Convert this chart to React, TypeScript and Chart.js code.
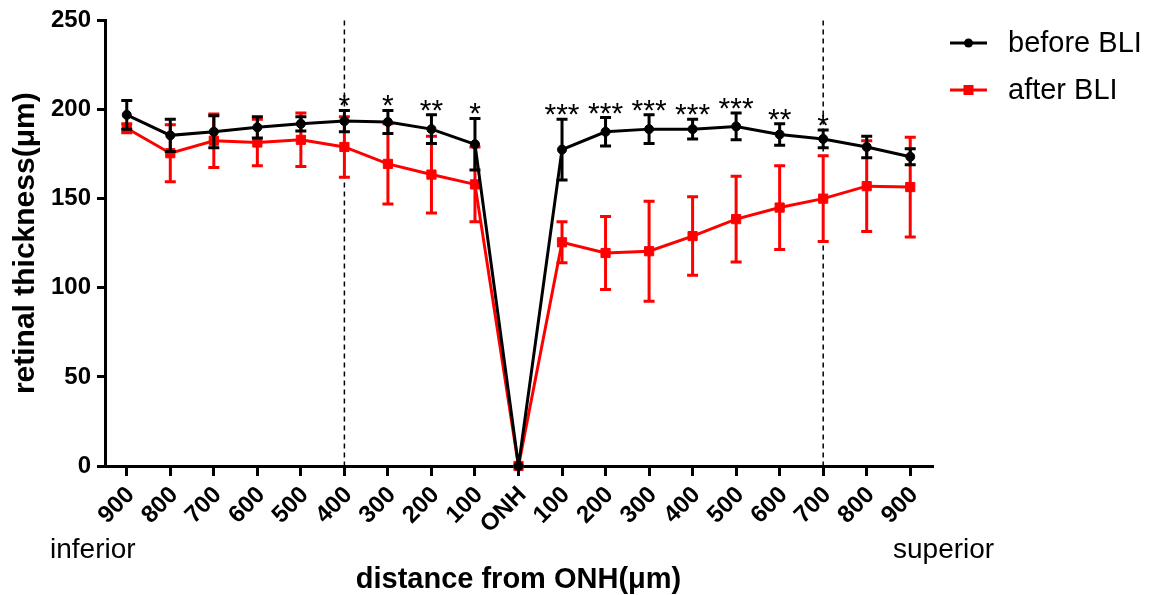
import React, { useEffect, useRef } from "react";
import { Chart, registerables } from "chart.js";

Chart.register(...registerables);

const categories = ["900", "800", "700", "600", "500", "400", "300", "200", "100", "ONH", "100", "200", "300", "400", "500", "600", "700", "800", "900"];
const beforeMean = [197, 185.5, 187.5, 190, 192, 193.5, 193, 189, 180.5, 0, 177.5, 187.5, 189, 189, 190.5, 186, 183.5, 179, 173.5];
const beforeSD = [8, 9, 9, 6, 4, 6, 6.5, 8, 14.5, 0, 17, 8, 8, 5.5, 7.5, 6, 5, 6, 4.5];
const afterMean = [189.5, 175.5, 182.5, 181.5, 183, 179, 169.5, 163.5, 158, 0, 125.5, 119.5, 120.5, 129, 138.5, 145, 150, 157, 156.5];
const afterSD = [2.5, 16, 15, 13, 15, 17, 22.5, 21.5, 21, 0, 11.5, 20.5, 28, 22, 24, 23.5, 24, 25.5, 28];
const significance = ["", "", "", "", "", "*", "*", "**", "*", "", "***", "***", "***", "***", "***", "**", "*", "", ""];
const dashedAt = [5, 16];
const seriesNames = ["before BLI", "after BLI"];
const yTicks = [0, 50, 100, 150, 200, 250];

const FONT = "'Liberation Sans', Arial, Helvetica, sans-serif";
const sds = [beforeSD, afterSD];

const extrasPlugin = {
  id: "extras",
  beforeDatasetsDraw(chart: any) {
    const { ctx, chartArea, scales } = chart;
    ctx.save();
    ctx.strokeStyle = "#000";
    ctx.lineWidth = 1.5;
    ctx.setLineDash([5, 4]);
    dashedAt.forEach((i) => {
      const x = scales.x.getPixelForValue(i);
      ctx.beginPath();
      ctx.moveTo(x, chartArea.top);
      ctx.lineTo(x, chartArea.bottom);
      ctx.stroke();
    });
    ctx.restore();
  },
  beforeDatasetDraw(chart: any, args: any) {
    const { ctx, scales } = chart;
    const ds = chart.data.datasets[args.index];
    const sd = sds[args.index];
    ctx.save();
    ctx.strokeStyle = ds.borderColor;
    ctx.lineWidth = 3;
    ctx.lineCap = "butt";
    ds.data.forEach((v: number, i: number) => {
      if (!sd[i]) return;
      const x = scales.x.getPixelForValue(i);
      const yt = scales.y.getPixelForValue(v + sd[i]);
      const yb = scales.y.getPixelForValue(v - sd[i]);
      ctx.beginPath();
      ctx.moveTo(x, yt);
      ctx.lineTo(x, yb);
      ctx.moveTo(x - 5.5, yt);
      ctx.lineTo(x + 5.5, yt);
      ctx.moveTo(x - 5.5, yb);
      ctx.lineTo(x + 5.5, yb);
      ctx.stroke();
    });
    ctx.restore();
  },
  afterDatasetsDraw(chart: any) {
    const { ctx, chartArea, scales } = chart;
    ctx.save();
    ctx.fillStyle = "#000";
    // significance stars
    ctx.font = `30px ${FONT}`;
    ctx.textAlign = "center";
    ctx.textBaseline = "alphabetic";
    significance.forEach((s, i) => {
      if (!s) return;
      const x = scales.x.getPixelForValue(i);
      const y = scales.y.getPixelForValue(beforeMean[i] + beforeSD[i]);
      ctx.fillText(s, x, y + 5);
    });
    // axis titles
    ctx.font = `bold 29px ${FONT}`;
    ctx.fillText("distance from ONH(\u03bcm)", (chartArea.left + chartArea.right) / 2, 588);
    ctx.save();
    ctx.translate(26, (chartArea.top + chartArea.bottom) / 2);
    ctx.rotate(-Math.PI / 2);
    ctx.textBaseline = "middle";
    ctx.font = `bold 30px ${FONT}`;
    ctx.fillText("retinal thickness(\u03bcm)", 0, 0);
    ctx.restore();
    // inferior / superior
    ctx.font = `28px ${FONT}`;
    ctx.textAlign = "left";
    ctx.fillText("inferior", 50, 558);
    ctx.fillText("superior", 893, 558);
    // legend
    const rows = [43, 90];
    chart.data.datasets.forEach((ds: any, i: number) => {
      const y = rows[i];
      ctx.strokeStyle = ds.borderColor;
      ctx.fillStyle = ds.borderColor;
      ctx.lineWidth = 3;
      ctx.beginPath();
      ctx.moveTo(950, y);
      ctx.lineTo(987, y);
      ctx.stroke();
      if (i === 0) {
        ctx.beginPath();
        ctx.arc(968.5, y, 4.5, 0, Math.PI * 2);
        ctx.fill();
      } else {
        ctx.fillRect(963.5, y - 5, 10, 10);
      }
      ctx.fillStyle = "#000";
      ctx.font = `29px ${FONT}`;
      ctx.textBaseline = "middle";
      ctx.fillText(seriesNames[i], 1008, y + 1);
    });
    ctx.restore();
  },
};

export default function App() {
  const ref = useRef<HTMLCanvasElement>(null);
  useEffect(() => {
    document.body.style.margin = "0";
    const chart = new Chart(ref.current!, {
      type: "line",
      data: {
        labels: categories,
        datasets: [
          {
            label: seriesNames[0],
            data: beforeMean,
            borderColor: "#000000",
            backgroundColor: "#000000",
            borderWidth: 3,
            pointStyle: "circle",
            pointRadius: 4.5,
            pointBorderWidth: 1,
            tension: 0,
            clip: false as any,
          },
          {
            label: seriesNames[1],
            data: afterMean,
            borderColor: "#ff0000",
            backgroundColor: "#ff0000",
            borderWidth: 3,
            pointStyle: "rect",
            pointRadius: 6.5,
            pointBorderWidth: 1,
            tension: 0,
            clip: false as any,
          },
        ],
      },
      options: {
        responsive: false,
        animation: false,
        devicePixelRatio: 1,
        layout: { padding: { top: 16, right: 219, left: 0, bottom: 0 } },
        plugins: { legend: { display: false }, tooltip: { enabled: false } },
        scales: {
          x: {
            type: "category",
            offset: true,
            grid: { display: true, drawOnChartArea: false, drawTicks: true, tickLength: 10, color: "#000", lineWidth: 3, offset: false },
            border: { display: true, color: "#000", width: 3 },
            ticks: {
              color: "#000",
              font: { family: FONT, size: 24, weight: "bold" },
              minRotation: 45,
              maxRotation: 45,
              autoSkip: false,
              padding: 5,
              labelOffset: 4,
            },
            afterFit: (s: any) => {
              s.height = 129;
            },
          },
          y: {
            min: 0,
            max: 250,
            afterBuildTicks: (s: any) => {
              s.ticks = yTicks.map((v) => ({ value: v }));
            },
            grid: { display: true, drawOnChartArea: false, drawTicks: true, tickLength: 8, color: "#000", lineWidth: 3 },
            border: { display: true, color: "#000", width: 3 },
            ticks: { color: "#000", font: { family: FONT, size: 24, weight: "bold" }, padding: 6 },
            afterFit: (s: any) => {
              s.width = 105;
            },
          },
        },
      },
      plugins: [extrasPlugin],
    });
    return () => chart.destroy();
  }, []);
  return (
    <div style={{ width: 1151, height: 595 }}>
      <canvas ref={ref} width={1151} height={595} style={{ display: "block" }} />
    </div>
  );
}
